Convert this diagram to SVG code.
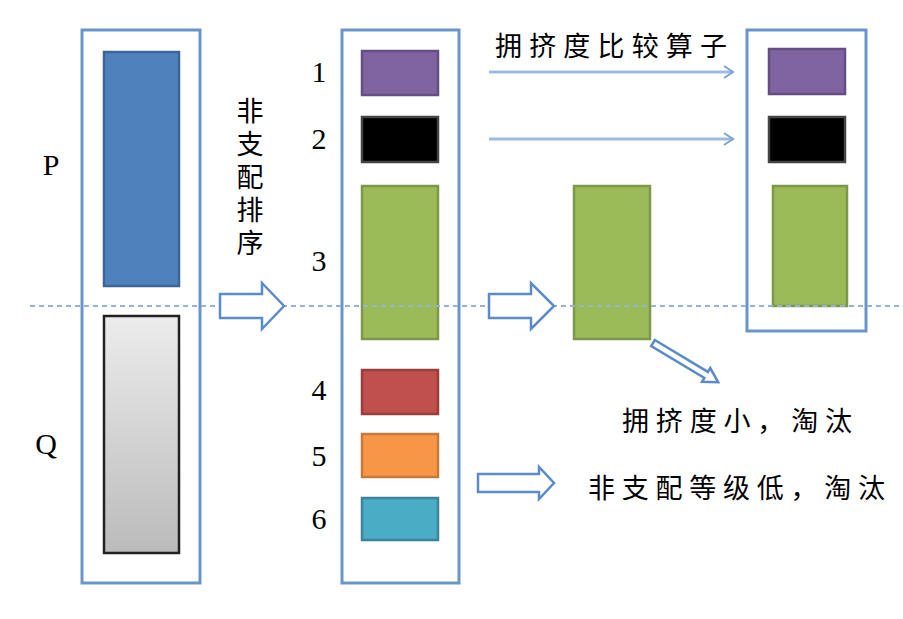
<svg xmlns="http://www.w3.org/2000/svg" width="903" height="619" viewBox="0 0 903 619">
<defs>
<linearGradient id="gq" x1="0" y1="0" x2="0" y2="1">
<stop offset="0" stop-color="#ECECEC"/>
<stop offset="1" stop-color="#BBBBBB"/>
</linearGradient>
<marker id="chev" markerWidth="14" markerHeight="14" refX="11" refY="7" orient="auto" markerUnits="userSpaceOnUse">
<polyline points="2,1 11,7 2,13" fill="none" stroke="#7FA3D1" stroke-width="2"/>
</marker>
</defs>
<style>
.box{fill:#fff;stroke:#6A95CB;stroke-width:3}
.cjk{font-family:"Noto Sans CJK SC","Noto Sans CJK JP",sans-serif;font-size:27px;fill:#000}
.num{font-family:"Liberation Serif","DejaVu Serif",serif;font-size:30px;fill:#000}
.blk{fill:#fff;stroke:#5B8BC9;stroke-width:2.5;stroke-linejoin:miter}
.thin{stroke:#9DBBE0;stroke-width:3;fill:none}
.dash{stroke:#95B3D7;stroke-width:2;stroke-dasharray:5 4;fill:none}
</style>
<rect width="903" height="619" fill="#fff"/>

<g id="left-box">
<rect class="box" x="82" y="30" width="118" height="553"/>
<rect id="P" x="104" y="52" width="75" height="234" fill="#4F81BD" stroke="#3D6597" stroke-width="2.5"/>
<rect id="Q" x="104" y="316" width="75" height="237" fill="url(#gq)" stroke="#222" stroke-width="2.5"/>
<text class="num" x="51" y="175" text-anchor="middle">P</text>
<text class="num" x="46" y="454" text-anchor="middle">Q</text>
</g>

<g id="sort-label">
<text class="cjk" x="250" y="97" writing-mode="tb" style="letter-spacing:6px">非支配排序</text>
</g>

<g id="middle-box">
<rect class="box" x="342" y="30" width="117" height="553"/>
<rect x="362" y="51" width="76" height="44" fill="#8064A2" stroke="#654E82" stroke-width="2.5"/>
<rect x="362" y="117" width="76" height="45" fill="#000" stroke="#444" stroke-width="2.5"/>
<rect x="362" y="186" width="76" height="153" fill="#9BBB59" stroke="#7D9848" stroke-width="2.5"/>
<rect x="362" y="370" width="76" height="44" fill="#C0504D" stroke="#9A3F3D" stroke-width="2.5"/>
<rect x="362" y="434" width="76" height="43" fill="#F79646" stroke="#C67A3A" stroke-width="2.5"/>
<rect x="362" y="498" width="76" height="42" fill="#4BACC6" stroke="#3A8599" stroke-width="2.5"/>
<text class="num" x="319" y="82" text-anchor="middle">1</text>
<text class="num" x="319" y="149" text-anchor="middle">2</text>
<text class="num" x="319" y="271" text-anchor="middle">3</text>
<text class="num" x="319" y="400" text-anchor="middle">4</text>
<text class="num" x="319" y="466" text-anchor="middle">5</text>
<text class="num" x="319" y="529" text-anchor="middle">6</text>
</g>

<g id="operator-label">
<text class="cjk" x="495" y="56" textLength="232" lengthAdjust="spacing">拥挤度比较算子</text>
</g>

<g id="candidate">
<rect x="574" y="186" width="76" height="153" fill="#9BBB59" stroke="#7D9848" stroke-width="2.5"/>
</g>

<g id="right-box">
<rect class="box" x="747" y="30" width="119" height="301"/>
<rect x="769" y="49" width="76" height="45" fill="#8064A2" stroke="#654E82" stroke-width="2.5"/>
<rect x="769" y="117" width="76" height="45" fill="#000" stroke="#444" stroke-width="2.5"/>
<rect x="773" y="186" width="74" height="120" fill="#9BBB59" stroke="#7D9848" stroke-width="2.5"/>
</g>

<g id="labels">
<text class="cjk" x="622" y="431" textLength="230" lengthAdjust="spacing">拥挤度小，淘汰</text>
<text class="cjk" x="588" y="498" textLength="297" lengthAdjust="spacing">非支配等级低，淘汰</text>
</g>

<g id="connectors">
<line class="dash" x1="30" y1="306" x2="903" y2="306"/>
<polygon class="blk" points="220,294 262,294 262,283 284,306 262,329 262,318 220,318"/>
<polygon class="blk" points="489,294 531,294 531,283 554,306 531,329 531,318 489,318"/>
<polygon class="blk" points="478,474 539,474 539,467 554,483 539,499 539,492 478,492"/>
<polygon class="blk" points="0,-3.5 62,-3.5 62,-8 76,0 62,8 62,3.5 0,3.5" transform="translate(653,343) rotate(31)"/>
<line class="thin" x1="489" y1="72" x2="733" y2="72" marker-end="url(#chev)"/>
<line class="thin" x1="489" y1="139" x2="733" y2="139" marker-end="url(#chev)"/>
</g>
</svg>
